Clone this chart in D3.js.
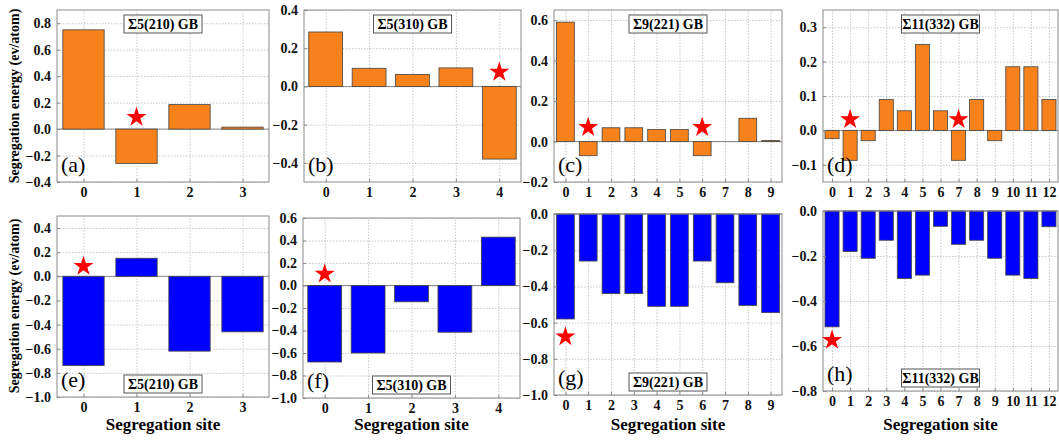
<!DOCTYPE html>
<html>
<head>
<meta charset="utf-8">
<script src="https://cdn.jsdelivr.net/npm/d3@7"></script>
<style>
  body { margin: 0; background: #fff; }
  svg text { font-family: "Liberation Serif", "Times New Roman", Times, serif; }
</style>
</head>
<body>
<div id="chart"></div>
<script>
// data
var titles = ["Σ5(210) GB", "Σ5(310) GB", "Σ9(221) GB", "Σ11(332) GB"];
var letters = ["(a)", "(b)", "(c)", "(d)", "(e)", "(f)", "(g)", "(h)"];

var energyTop = [
    [0.75, -0.26, 0.185, 0.015],
    [0.285, 0.095, 0.063, 0.097, -0.38],
    [0.59, -0.07, 0.068, 0.068, 0.06, 0.06, -0.07, 0, 0.115, 0.005],
    [-0.024, -0.087, -0.03, 0.09, 0.057, 0.25, 0.057, -0.087, 0.09, -0.03, 0.185, 0.185, 0.09]
];
var energyBottom = [
    [-0.74, 0.15, -0.62, -0.46],
    [-0.68, -0.6, -0.145, -0.415, 0.43],
    [-0.58, -0.26, -0.44, -0.44, -0.51, -0.51, -0.26, -0.38, -0.505, -0.545],
    [-0.515, -0.18, -0.21, -0.13, -0.3, -0.285, -0.068, -0.148, -0.13, -0.21, -0.285, -0.3, -0.07]
];

// [site, energy] of the red stars
var starsTop = [[[1, 0.09]], [[4, 0.075]], [[1, 0.07], [6, 0.07]], [[1, 0.032], [7, 0.032]]];
var starsBottom = [[[0, 0.083]], [[0, 0.103]], [[0, -0.678]], [[0, -0.574]]];

var domainTop = [[-0.4, 0.9], [-0.5, 0.4], [-0.2, 0.65], [-0.15, 0.35]];
var domainBottom = [[-1.0, 0.5], [-1.0, 0.6], [-1.0, 0.0], [-0.8, 0.0]];

var ticksTop = [
    [-0.4, -0.2, 0, 0.2, 0.4, 0.6, 0.8],
    [-0.4, -0.2, 0, 0.2, 0.4],
    [-0.2, 0, 0.2, 0.4, 0.6],
    [-0.1, 0, 0.1, 0.2, 0.3]
];
var ticksBottom = [
    [-1, -0.8, -0.6, -0.4, -0.2, 0, 0.2, 0.4],
    [-1, -0.8, -0.6, -0.4, -0.2, 0, 0.2, 0.4, 0.6],
    [-1, -0.8, -0.6, -0.4, -0.2, 0],
    [-0.8, -0.6, -0.4, -0.2, 0]
];

// frame boxes [left, right, top, bottom]
var boxTop = [[57, 269, 10, 182], [304, 521, 10, 182], [554, 782, 10, 182], [823, 1058, 10, 182]];
var boxBottom = [[57, 269, 216, 397], [303, 520, 218, 398], [554, 782, 214, 395], [823, 1058, 211, 391]];

var serif = '"Liberation Serif", "Times New Roman", Times, serif';

var svg = d3.select("#chart").append("svg")
    .attr("width", 1059)
    .attr("height", 443)
    .attr("font-family", serif);

function drawPanel(box, vals, dom, yt, stars, title, letter, color, titleAtTop, showXLabel) {
    var left = box[0], right = box[1], top = box[2], bottom = box[3];
    var n = vals.length;

    var x = d3.scaleLinear().domain([-0.5, n - 0.5]).range([left, right]);
    var y = d3.scaleLinear().domain(dom).range([bottom, top]);
    var sites = d3.range(n);

    var g = svg.append("g");

    // dotted grid
    g.append("g")
        .attr("transform", "translate(0," + bottom + ")")
        .call(d3.axisBottom(x).tickValues(sites).tickSize(-(bottom - top)).tickFormat(""))
        .call(s => s.select(".domain").remove())
        .selectAll("line").attr("stroke", "#c8c8c8").attr("stroke-dasharray", "1.5,1.5");
    g.append("g")
        .attr("transform", "translate(" + left + ",0)")
        .call(d3.axisLeft(y).tickValues(yt).tickSize(-(right - left)).tickFormat(""))
        .call(s => s.select(".domain").remove())
        .selectAll("line").attr("stroke", "#c8c8c8").attr("stroke-dasharray", "1.5,1.5");

    // zero line
    g.append("line")
        .attr("x1", left).attr("x2", right)
        .attr("y1", y(0)).attr("y2", y(0))
        .attr("stroke", "#8a8a8a").attr("stroke-width", 1);

    // bars
    g.selectAll(".bar")
        .data(vals)
        .enter()
        .append("rect")
        .attr("x", (d, i) => x(i - 0.39))
        .attr("width", (d, i) => x(i + 0.39) - x(i - 0.39))
        .attr("y", d => y(Math.max(0, d)))
        .attr("height", d => Math.abs(y(d) - y(0)))
        .attr("fill", color)
        .attr("stroke", "#444")
        .attr("stroke-width", 0.8);

    // frame
    g.append("rect")
        .attr("x", left).attr("y", top)
        .attr("width", right - left).attr("height", bottom - top)
        .attr("fill", "none").attr("stroke", "#8a8a8a").attr("stroke-width", 1);

    // axes with inward ticks
    var ya = g.append("g")
        .attr("transform", "translate(" + left + ",0)")
        .call(d3.axisLeft(y).tickValues(yt).tickSizeInner(-3).tickSizeOuter(0).tickPadding(6).tickFormat(d3.format(".1f")));
    ya.attr("font-family", serif).attr("font-size", 14).attr("font-weight", "bold");
    ya.select(".domain").remove();
    ya.selectAll("line").attr("stroke", "#8a8a8a");
    ya.selectAll("text").attr("fill", "#111");

    var xa = g.append("g")
        .attr("transform", "translate(0," + bottom + ")")
        .call(d3.axisBottom(x).tickValues(sites).tickSizeInner(-3).tickSizeOuter(0).tickPadding(5).tickFormat(d3.format("d")));
    xa.attr("font-family", serif).attr("font-size", 14).attr("font-weight", "bold");
    xa.select(".domain").remove();
    xa.selectAll("line").attr("stroke", "#8a8a8a");
    xa.selectAll("text").attr("fill", "#111");

    // stars
    g.selectAll(".star")
        .data(stars)
        .enter()
        .append("path")
        .attr("d", d3.symbol(d3.symbolStar, 125))
        .attr("transform", d => "translate(" + x(d[0]) + "," + y(d[1]) + ")")
        .attr("fill", "#ff0000");

    // title box
    var cx = (left + right) / 2;
    var by = titleAtTop ? top + 5 : bottom - 22;
    g.append("rect")
        .attr("x", cx - 39).attr("y", by)
        .attr("width", 78).attr("height", 18)
        .attr("fill", "#fff").attr("stroke", "#555").attr("stroke-width", 1);
    g.append("text")
        .attr("x", cx).attr("y", by + 14)
        .attr("text-anchor", "middle")
        .attr("font-weight", "bold")
        .attr("font-size", 14)
        .text(title);

    // panel letter
    g.append("text")
        .attr("x", left + 4).attr("y", bottom - 10)
        .attr("font-size", 22)
        .text(letter);

    if (showXLabel) {
        g.append("text")
            .attr("x", cx).attr("y", 430)
            .attr("text-anchor", "middle")
            .attr("font-weight", "bold")
            .attr("font-size", 17)
            .text("Segregation site");
    }
}

for (var i = 0; i < 4; i++) {
    drawPanel(boxTop[i], energyTop[i], domainTop[i], ticksTop[i], starsTop[i], titles[i], letters[i], "#f7821b", true, false);
    drawPanel(boxBottom[i], energyBottom[i], domainBottom[i], ticksBottom[i], starsBottom[i], titles[i], letters[i + 4], "#0000ff", false, true);
}

// y labels
[96, 306].forEach(function (cy) {
    svg.append("text")
        .attr("transform", "translate(19," + cy + ") rotate(-90)")
        .attr("text-anchor", "middle")
        .attr("font-weight", "bold")
        .attr("font-size", 14)
        .text("Segregation energy (ev/atom)");
});
</script>
</body>
</html>
